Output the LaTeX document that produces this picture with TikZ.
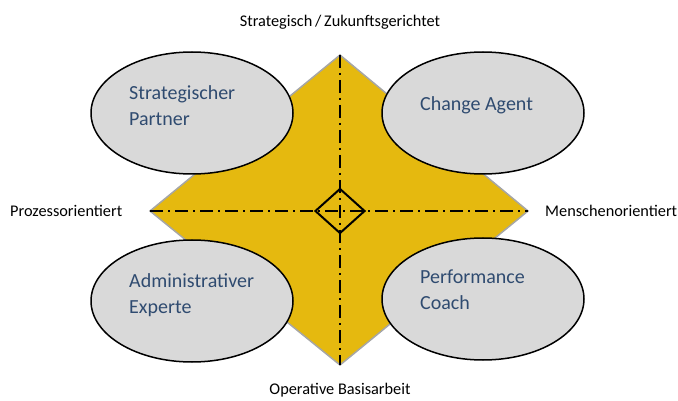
\documentclass[tikz,border=0pt]{standalone}
\usepackage{fontspec}
\setmainfont{Carlito}
\usetikzlibrary{shapes.geometric}
\definecolor{gold}{HTML}{E5B90F}
\definecolor{rolegray}{HTML}{D9D9D9}
\definecolor{roleblue}{HTML}{2F4B70}
\definecolor{rimgray}{HTML}{A6A6A6}
\tikzset{
    role/.style={ellipse, draw=black, line width=1.5pt, fill=rolegray, minimum width=202pt, minimum height=122pt, inner sep=0pt},
    roletext/.style={anchor=west, align=left, text=roleblue, inner sep=0pt, font=\fontsize{20}{26}\selectfont},
    axislabel/.style={inner sep=0pt, font=\fontsize{16.3}{19}\selectfont},
    axisline/.style={line width=2pt, dash pattern=on 13pt off 5pt on 2pt off 5pt}
}
\begin{document}
\begin{tikzpicture}[x=1pt,y=-1pt]
\useasboundingbox (0,0) rectangle (678,401);
\foreach \x/\y/\p in {340/55/top, 340/365/bot, 150/211/west, 528/211/east, 340/211/ctr}{
    \coordinate (\p) at (\x,\y);
}
\draw[rimgray, line width=1.5pt, fill=gold] (top) -- (east) -- (bot) -- (west) -- cycle;
\foreach \x/\y/\p/\tx/\ty/\labeltext in {192/113/sp/129/106/{Strategischer\\Partner}, 483/113/ca/420/105/{Change Agent}, 192/301/ae/129/295/{Administrativer\\Experte}, 483/299/pc/420/290/{Performance\\Coach}}{
    \node[role] (\p) at (\x,\y) {};
    \node[roletext] (\p text) at (\tx,\ty) {\labeltext};
}
\draw[axisline] (top) -- (bot);
\draw[axisline] (west) -- (east);
\node[diamond, draw, line width=2pt, minimum width=50pt, minimum height=45pt, inner sep=0pt] (hub) at (ctr) {};
\node[axislabel] (future) at (340,22) {Strategisch\,/\,Zukunftsgerichtet};
\node[axislabel, anchor=west] (process) at (10,211) {Prozessorientiert};
\node[axislabel, anchor=west] (people) at (545,211) {Menschenorientiert};
\node[axislabel] (operative) at (340,390) {Operative Basisarbeit};
\end{tikzpicture}
\end{document}
